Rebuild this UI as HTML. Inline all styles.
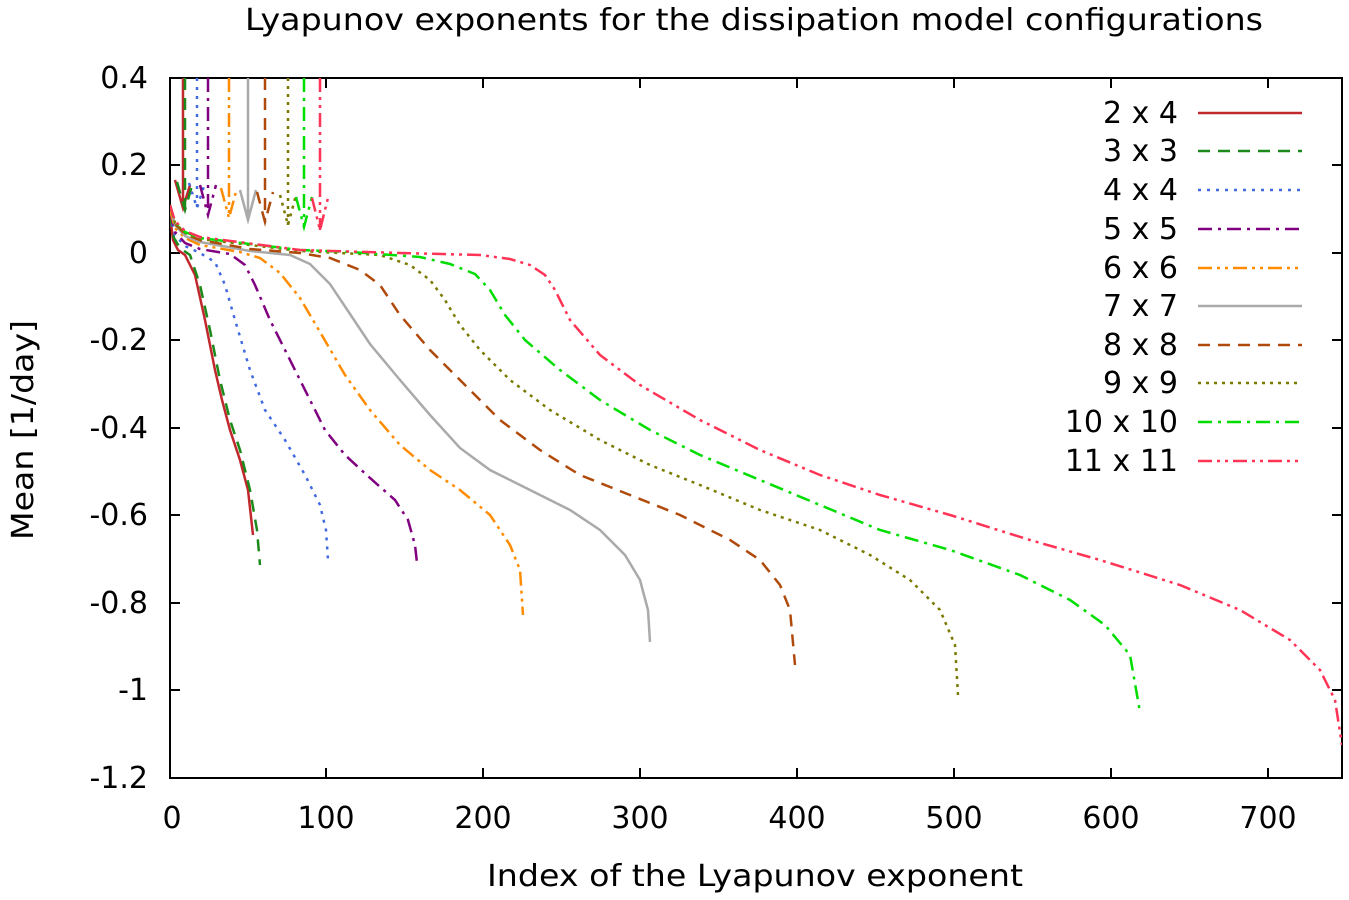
<!DOCTYPE html>
<html><head><meta charset="utf-8"><style>body{margin:0;background:#fff}svg{display:block}text{font-family:"DejaVu Sans","Liberation Sans",sans-serif;font-size:30px;fill:#000}</style></head><body>
<svg width="1349" height="900" viewBox="0 0 1349 900" xmlns="http://www.w3.org/2000/svg">
<text x="245" y="30" textLength="1018" lengthAdjust="spacingAndGlyphs" style="font-size:30px">Lyapunov exponents for the dissipation model configurations</text>
<g stroke="#000" stroke-width="2" fill="none">
<rect x="170" y="78" width="1172" height="700"/>
<path d="M170 165h10M170 253h10M170 340h10M170 428h10M170 515h10M170 603h10M170 690h10M1342 165h-10M1342 253h-10M1342 340h-10M1342 428h-10M1342 515h-10M1342 603h-10M1342 690h-10"/>
<path d="M326 778v-10M483 778v-10M640 778v-10M797 778v-10M954 778v-10M1111 778v-10M1268 778v-10M326 78v10M483 78v10M640 78v10M797 78v10M954 78v10M1111 78v10M1268 78v10"/>
</g>
<g text-anchor="end" style="font-size:28px">
<text x="148" y="88">0.4</text><text x="148" y="175">0.2</text><text x="148" y="263">0</text><text x="148" y="350">-0.2</text><text x="148" y="438">-0.4</text><text x="148" y="525">-0.6</text><text x="148" y="613">-0.8</text><text x="148" y="700">-1</text><text x="148" y="788">-1.2</text>
</g>
<g text-anchor="middle" style="font-size:28px">
<text x="172" y="828">0</text><text x="326" y="828">100</text><text x="483" y="828">200</text><text x="640" y="828">300</text><text x="797" y="828">400</text><text x="954" y="828">500</text><text x="1111" y="828">600</text><text x="1268" y="828">700</text>
</g>
<text x="487" y="886" textLength="536" lengthAdjust="spacingAndGlyphs" style="font-size:30px">Index of the Lyapunov exponent</text>
<text transform="translate(33,540) rotate(-90)" textLength="220" lengthAdjust="spacingAndGlyphs" style="font-size:30px">Mean [1/day]</text>
<defs><clipPath id="c"><rect x="170" y="78" width="1172" height="700"/></clipPath></defs>
<g fill="none" stroke-width="2.5" clip-path="url(#c)">
<g stroke="#c0282d"><path d="M183 78V208M175 180L183 208L190 185"/><polyline points="170,215 173,240 178,250 185,255 195,275 205,320 215,370 222,400 230,430 240,460 248,490 253,535"/></g>
<g stroke="#1a8a1a" stroke-dasharray="12,8"><path d="M185 78V210M177 182L185 210L193 182"/><polyline points="170,215 174,238 180,248 190,255 200,285 210,330 220,380 230,420 240,450 250,490 257,530 260,565"/></g>
<g stroke="#4169e1" stroke-dasharray="3,6"><path d="M197 78V208M189 183L197 208L205 183"/><polyline points="170,215 175,235 185,246 200,253 215,262 225,285 235,320 250,370 265,410 285,440 305,475 320,505 326,530 328,560"/></g>
<g stroke="#800080" stroke-dasharray="14,6,3,6"><path d="M208 78V215M200 185L208 215L216 185"/><polyline points="170,212 175,232 185,243 200,249 230,254 245,265 255,285 270,320 290,360 310,400 325,430 345,455 370,478 395,500 408,520 415,545 417,563"/></g>
<g stroke="#ff8c00" stroke-dasharray="14,5,3,5,3,5"><path d="M229 78V218M221 188L229 218L237 188"/><polyline points="170,210 175,228 185,238 200,245 240,252 260,258 280,273 300,298 320,332 345,375 370,410 400,445 430,470 460,490 490,515 510,545 520,570 523,615"/></g>
<g stroke="#aaaaaa"><path d="M248 78V220M240 190L248 220L256 190"/><polyline points="170,205 175,225 185,236 200,242 250,251 290,255 310,264 330,284 350,314 370,344 400,380 430,415 460,448 490,470 530,490 570,510 600,530 625,555 640,580 648,610 650,642"/></g>
<g stroke="#b04a0a" stroke-dasharray="12,8"><path d="M265 78V222M257 192L265 222L273 192"/><polyline points="170,205 175,224 185,234 200,240 250,249 300,253 330,258 360,270 380,285 400,315 430,350 460,380 500,420 540,450 580,475 630,495 680,515 730,540 760,560 780,585 790,610 795,665"/></g>
<g stroke="#7a7a00" stroke-dasharray="3,5"><path d="M288 78V225M280 195L288 225L296 195"/><polyline points="170,205 175,223 185,233 200,239 300,251 380,255 410,265 430,280 445,300 460,325 480,350 510,380 550,410 600,440 650,465 700,485 760,510 820,530 870,555 910,580 940,610 955,645 958,695"/></g>
<g stroke="#00dd00" stroke-dasharray="14,6,3,6"><path d="M304 78V227M296 197L304 227L312 197"/><polyline points="170,205 175,222 185,232 200,238 300,250 350,252 420,257 450,264 475,274 490,290 505,315 525,340 560,370 600,400 650,430 700,455 760,480 820,505 880,530 950,550 1020,575 1070,600 1105,625 1130,655 1140,712"/></g>
<g stroke="#ff3355" stroke-dasharray="14,5,3,5,3,5"><path d="M320 78V230M312 198L320 230L328 198"/><polyline points="170,205 175,221 185,231 200,237 300,250 400,253 480,255 510,259 530,265 545,275 555,290 570,320 600,355 640,385 700,420 760,450 820,475 880,495 950,515 1030,540 1100,560 1180,585 1240,610 1290,640 1320,670 1335,700 1342,745"/></g>
</g>
<g text-anchor="end" style="font-size:28px">
<text x="1178" y="123">2 x 4</text><text x="1178" y="161">3 x 3</text><text x="1178" y="200">4 x 4</text><text x="1178" y="239">5 x 5</text><text x="1178" y="278">6 x 6</text><text x="1178" y="316">7 x 7</text><text x="1178" y="355">8 x 8</text><text x="1178" y="393">9 x 9</text><text x="1178" y="432">10 x 10</text><text x="1178" y="471">11 x 11</text>
</g>
<g stroke-width="2.5">
<line x1="1198" y1="113" x2="1302" y2="113" stroke="#c0282d"/>
<line x1="1198" y1="151" x2="1302" y2="151" stroke="#1a8a1a" stroke-dasharray="12,8"/>
<line x1="1198" y1="190" x2="1302" y2="190" stroke="#4169e1" stroke-dasharray="3,6"/>
<line x1="1198" y1="229" x2="1302" y2="229" stroke="#800080" stroke-dasharray="14,6,3,6"/>
<line x1="1198" y1="268" x2="1302" y2="268" stroke="#ff8c00" stroke-dasharray="14,5,3,5,3,5"/>
<line x1="1198" y1="306" x2="1302" y2="306" stroke="#aaaaaa"/>
<line x1="1198" y1="345" x2="1302" y2="345" stroke="#b04a0a" stroke-dasharray="12,8"/>
<line x1="1198" y1="383" x2="1302" y2="383" stroke="#7a7a00" stroke-dasharray="3,5"/>
<line x1="1198" y1="422" x2="1302" y2="422" stroke="#00dd00" stroke-dasharray="14,6,3,6"/>
<line x1="1198" y1="461" x2="1302" y2="461" stroke="#ff3355" stroke-dasharray="14,5,3,5,3,5"/>
</g>
</svg>
</body></html>
